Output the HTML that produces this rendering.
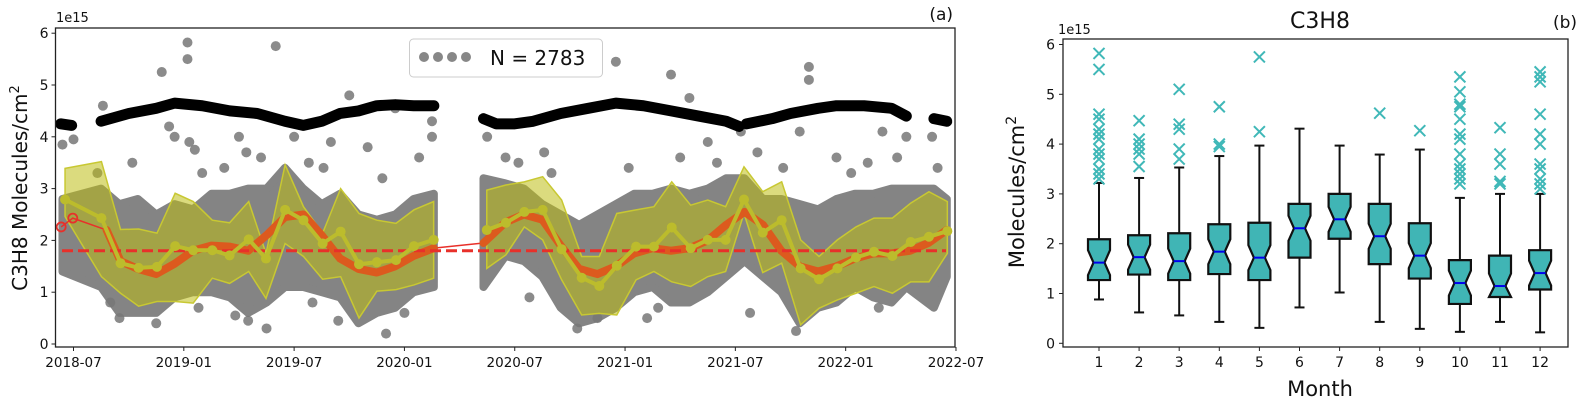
<!DOCTYPE html>
<html><head><meta charset="utf-8"><style>
body{margin:0;background:#fff;font-family:"Liberation Sans","DejaVu Sans",sans-serif}
svg text{font-family:"DejaVu Sans","Liberation Sans",sans-serif;fill:#111}
</style></head><body>
<svg id="s" width="1578" height="402" xmlns="http://www.w3.org/2000/svg">
<g id="A"></g>
<g id="B"></g>
</svg>
<script>
// ---------- Panel (a) data (x = months since 2018-07) ----------
const yellowM=[-0.46,1.52,2.56,3.54,4.54,5.53,6.51,7.55,8.49,9.53,10.47,11.51,12.51,13.55,14.53,15.53,16.5,17.54,18.52,19.59,22.48,23.52,24.52,25.52,26.55,27.64,28.6,29.55,30.6,31.57,32.54,33.57,34.5,35.47,36.47,37.49,38.52,39.55,40.55,41.55,42.56,43.54,44.54,45.54,46.53,47.53];
const yellowV=[2.79,2.43,1.56,1.47,1.49,1.89,1.81,1.81,1.71,2.02,1.65,2.59,2.39,1.94,2.17,1.54,1.58,1.62,1.89,2.01,2.2,2.34,2.55,2.59,1.83,1.28,1.12,1.51,1.88,1.88,2.25,1.85,2.01,2.01,2.79,2.15,2.39,1.46,1.25,1.46,1.67,1.78,1.70,1.97,2.07,2.18];
const bandUpper=[3.39,3.52,2.21,2.22,2.14,2.91,2.75,2.39,2.34,2.75,1.75,3.46,2.65,2.14,3.0,2.52,2.39,2.33,2.59,2.75,2.97,3.07,3.13,3.23,2.78,1.69,1.69,2.52,2.59,2.65,3.13,2.68,2.78,2.65,3.42,2.94,3.13,2.01,1.69,2.01,2.26,2.43,2.43,2.72,2.94,2.75];
const bandLower=[2.46,1.30,0.98,0.73,0.82,0.82,0.79,1.27,1.17,1.40,0.88,1.94,1.69,1.25,1.3,0.5,1.02,1.05,1.14,1.27,1.46,1.72,2.26,2.01,1.24,0.56,0.59,0.56,1.24,1.40,1.20,1.11,1.30,1.40,2.52,1.38,1.56,0.37,0.69,0.85,0.98,1.11,0.98,1.20,1.20,1.75];
const orangeM1=[1.8,2.56,3.5,4.5,5.5,6.5,7.5,8.5,9.5,10.5,11.5,12.5,13.5,14.5,15.5,16.5,17.5,18.5,19.6];
const orangeV1=[2.2,1.6,1.45,1.35,1.55,1.8,1.9,1.88,1.8,2.1,2.45,2.5,2.1,1.65,1.45,1.38,1.5,1.7,1.85];
const orangeM2=[22.3,23.5,24.5,25.5,26.5,27.5,28.5,29.5,30.5,31.5,32.5,33.5,34.5,35.5,36.5,37.5,38.5,39.5,40.5,41.5,42.5,43.5,44.5,45.5,46.5,47.5];
const orangeV2=[1.95,2.35,2.5,2.4,1.9,1.45,1.35,1.5,1.75,1.85,1.8,1.85,2.0,2.3,2.55,2.3,1.8,1.5,1.4,1.5,1.65,1.75,1.75,1.8,1.95,2.2];
const blackSegs=[
 [[-0.7,4.25],[-0.1,4.22]],
 [[1.5,4.3],[3,4.45],[4.5,4.55],[5.5,4.65],[7,4.6],[8.5,4.5],[10,4.45],[11.5,4.3],[12.5,4.22],[13.5,4.3],[14.5,4.45],[15.5,4.5],[16.5,4.6],[17.5,4.62],[18.5,4.6],[19.6,4.6]],
 [[22.3,4.35],[23,4.25],[24,4.25],[25,4.3],[26.5,4.45],[28,4.55],[29.5,4.65],[31,4.6],[32.5,4.5],[34,4.4],[35.5,4.3],[36.2,4.2]],
 [[36.6,4.25],[38,4.35],[39,4.45],[40.5,4.55],[41.5,4.6],[43,4.6],[44.5,4.55],[45.3,4.4]],
 [[46.8,4.35],[47.5,4.3]]];
const cloudM1=[-0.6,1.5,2.5,3.5,4.5,5.5,6.5,7.5,8.5,9.5,10.5,11.5,12.5,13.5,14.5,15.5,16.5,17.5,18.5,19.6];
const cloudLo1=[1.4,1.1,0.6,0.6,0.6,0.9,1.0,1.0,0.9,0.6,0.8,1.1,1.1,1.0,0.9,0.4,0.6,0.7,1.0,1.1];
const cloudHi1=[2.8,3.0,2.7,2.8,2.5,2.7,2.6,2.9,2.9,3.0,3.0,3.4,3.0,2.7,2.9,2.5,2.4,2.5,2.8,2.9];
const cloudM2=[22.3,23.5,24.5,25.5,26.5,27.5,28.5,29.5,30.5,31.5,32.5,33.5,34.5,35.5,36.5,37.5,38.5,39.5,40.5,41.5,42.5,43.5,44.5,45.3,46.8,47.5];
const cloudLo2=[1.1,1.7,1.6,1.3,0.7,0.4,0.5,0.7,1.0,1.1,0.8,0.8,1.0,1.3,1.6,1.3,1.0,0.4,0.7,0.8,1.1,0.9,0.8,1.1,0.7,1.3];
const cloudHi2=[3.2,3.1,3.0,2.7,2.5,2.3,2.5,2.7,2.9,2.9,3.0,2.9,3.0,3.2,3.2,2.8,2.8,2.7,2.6,2.8,2.9,2.9,3.0,3.0,3.0,2.8];
const grayM=[-0.6,0,1.6,4.8,5.2,5.5,6.2,6.2,6.3,6.6,11.0,9.0,9.4,12.0,14.0,15.0,16.0,17.5,19.5,19.5,2.5,4.5,8.8,9.5,10.5,14.4,17.0,22.5,23.5,25.6,29.5,32.5,33.5,34.5,36.3,40.0,40.0,39.5,41.5,44.0,45.3,46.7,27.4,28.5,31.2,39.3,
 1.3,3.2,7.0,8.2,10.2,12.8,13.6,16.8,18.8,24.2,26.0,30.2,33.0,35.0,37.2,38.6,42.3,43.2,44.8,47.0,2.0,6.8,13.0,18.0,24.8,31.8,36.8,43.8];
const grayV=[3.85,3.95,4.6,5.25,4.2,4.0,5.82,5.5,3.9,3.75,5.75,4.0,3.7,4.0,3.9,4.8,3.8,4.55,4.0,4.3,0.5,0.4,0.55,0.45,0.3,0.45,0.2,4.0,3.6,3.7,5.45,5.2,4.75,3.9,4.1,5.35,5.1,4.1,3.6,4.1,4.0,4.0,0.3,0.5,0.5,0.25,
 3.3,3.5,3.3,3.4,3.6,3.5,3.4,3.2,3.6,3.5,3.3,3.4,3.6,3.5,3.7,3.4,3.3,3.5,3.6,3.4,0.8,0.7,0.8,0.6,0.9,0.7,0.6,0.7];
const meanLine=1.8;
const redCircM=[-0.67,-0.04], redCircV=[2.26,2.43];
const xTickLabels=["2018-07","2019-01","2019-07","2020-01","2020-07","2021-01","2021-07","2022-01","2022-07"];
const xTickMonths=[0,6,12,18,24,30,36,42,48];
const yTicks=[0,1,2,3,4,5,6];

// ---------- Panel (b) data ----------
const months=[1,2,3,4,5,6,7,8,9,10,11,12];
const whiskLo=[0.88,0.62,0.56,0.43,0.31,0.72,1.02,0.43,0.29,0.23,0.43,0.22];
const q1=[1.27,1.38,1.27,1.39,1.27,1.72,2.10,1.59,1.30,0.79,0.93,1.08];
const med=[1.62,1.73,1.65,1.84,1.72,2.31,2.49,2.15,1.76,1.21,1.15,1.41];
const q3=[2.09,2.17,2.21,2.39,2.42,2.80,3.0,2.80,2.41,1.67,1.76,1.87];
const whiskHi=[3.22,3.32,3.53,3.76,3.97,4.31,3.97,3.79,3.89,2.92,3.0,3.0];
const outliers=[[5.82,5.5,4.6,4.5,4.3,4.2,4.1,3.9,3.8,3.7,3.5,3.4,3.3],[4.47,4.1,4.0,3.9,3.8,3.55],[5.1,4.4,4.3,3.9,3.7],[4.75,4.0,3.95],[5.75,4.25],[],[],[4.62],[4.27],[5.35,5.05,4.8,4.75,4.5,4.2,4.1,3.8,3.6,3.5,3.4,3.3,3.2],[4.33,3.8,3.6,3.25,3.2],[5.45,5.35,5.25,4.6,4.2,4.0,3.6,3.5,3.3,3.2,3.1]];

const NS="http://www.w3.org/2000/svg";
function mk(p,t,a,txt){const e=document.createElementNS(NS,t);for(const k in a)e.setAttribute(k,a[k]);if(txt!==undefined)e.textContent=txt;p.appendChild(e);return e;}
const A=document.getElementById('A'),B=document.getElementById('B');
const ax=m=>73.5+m*18.385, ay=v=>344-v*51.8;
const L=55.5,R=955,T=28,Bt=347;
let e;
function cloud(M,lo,hi,name){let d='M'+M.map((m,i)=>ax(m)+','+ay(hi[i])).join('L');for(let i=M.length-1;i>=0;i--)d+='L'+ax(M[i])+','+ay(lo[i]);
 e=mk(A,'path',{d:d+'Z',fill:'#747474',stroke:'#747474','stroke-width':8,'stroke-linejoin':'round','opacity':0.88});
 }
cloud(cloudM1,cloudLo1,cloudHi1,'gray-cloud-1');cloud(cloudM2,cloudLo2,cloudHi2,'gray-cloud-2');
grayM.forEach((m,i)=>{e=mk(A,'circle',{cx:ax(m),cy:ay(grayV[i]),r:5,fill:'#777','opacity':0.85});
 });
blackSegs.forEach(s=>{e=mk(A,'polyline',{points:s.map(p=>ax(p[0])+','+ay(p[1])).join(' '),fill:'none',stroke:'#000','stroke-width':11,'stroke-linecap':'round','stroke-linejoin':'round'});
 });
function band(i0,i1,name){let d='M';for(let i=i0;i<=i1;i++)d+=(i>i0?'L':'')+ax(yellowM[i])+','+ay(bandUpper[i]);for(let i=i1;i>=i0;i--)d+='L'+ax(yellowM[i])+','+ay(bandLower[i]);
 e=mk(A,'path',{d:d+'Z',fill:'rgba(190,190,20,0.55)',stroke:'#c8c832','stroke-width':1.5});
 }
band(0,19,'yellow-band-1');band(20,45,'yellow-band-2');
e=mk(A,'polyline',{points:redCircM.map((m,i)=>ax(m)+','+ay(redCircV[i])).join(' ')+' '+ax(orangeM1[0])+','+ay(orangeV1[0]),fill:'none',stroke:'#e8302a','stroke-width':1.5});

e=mk(A,'line',{x1:ax(orangeM1[orangeM1.length-1]),y1:ay(orangeV1[orangeV1.length-1]),x2:ax(orangeM2[0]),y2:ay(orangeV2[0]),stroke:'#e8302a','stroke-width':1.5});

redCircM.forEach((m,i)=>{e=mk(A,'circle',{cx:ax(m),cy:ay(redCircV[i]),r:4.5,fill:'none',stroke:'#e8302a','stroke-width':1.8});
 });
[[orangeM1,orangeV1],[orangeM2,orangeV2]].forEach(o=>{e=mk(A,'polyline',{points:o[0].map((m,i)=>ax(m)+','+ay(o[1][i])).join(' '),fill:'none',stroke:'#dc5a1e','stroke-width':8,'stroke-linecap':'round','stroke-linejoin':'round'});
 });
e=mk(A,'line',{x1:62,x2:946,y1:ay(meanLine),y2:ay(meanLine),stroke:'#e8302a','stroke-width':3,'stroke-dasharray':'11,5'});

[[0,19],[20,45]].forEach(r=>{const pts=[];for(let i=r[0];i<=r[1];i++)pts.push(ax(yellowM[i])+','+ay(yellowV[i]));
 e=mk(A,'polyline',{points:pts.join(' '),fill:'none',stroke:'#bcbc2c','stroke-width':4});
 });
yellowM.forEach((m,i)=>{e=mk(A,'circle',{cx:ax(m),cy:ay(yellowV[i]),r:5,fill:'#bcbc2c'});
 });
e=mk(A,'rect',{x:L,y:T,width:R-L,height:Bt-T,fill:'none',stroke:'#222','stroke-width':1.3});

yTicks.forEach(v=>{mk(A,'line',{x1:L-4,x2:L,y1:ay(v),y2:ay(v),stroke:'#222'});
 e=mk(A,'text',{x:L-7,y:ay(v)+5,'text-anchor':'end','font-size':14},v);
 });
xTickMonths.forEach((m,i)=>{mk(A,'line',{x1:ax(m),x2:ax(m),y1:Bt,y2:Bt+4,stroke:'#222'});
 e=mk(A,'text',{x:ax(m),y:367,'text-anchor':'middle','font-size':13.5},xTickLabels[i]);
 });
e=mk(A,'text',{x:56,y:22,'font-size':13},'1e15');
e=mk(A,'text',{x:953,y:20,'font-size':17,'text-anchor':'end'},'(a)');
e=mk(A,'text',{x:0,y:0,'font-size':20,'text-anchor':'middle',transform:'translate(27,188) rotate(-90)'},'C3H8 Molecules/cm');

mk(e,'tspan',{'font-size':13,dy:-8},'2');
e=mk(A,'rect',{x:409.5,y:39,width:193,height:38,rx:4,fill:'#fff','fill-opacity':0.85,stroke:'#ccc'});

[424,438,452,466].forEach(x=>{e=mk(A,'circle',{cx:x,cy:57,r:5,fill:'#7a7a7a',opacity:0.9});});
e=mk(A,'text',{x:490,y:65,'font-size':20},'N = 2783');

// ---------- panel (b) ----------
const bx=m=>1099+(m-1)*40.1, by=v=>343.3-v*49.8;
const L2=1063,R2=1568,T2=39,B2=347,hw=11;
months.forEach((m,i)=>{const c=bx(m);
 e=mk(B,'line',{x1:c,x2:c,y1:by(whiskLo[i]),y2:by(q1[i]),stroke:'#111','stroke-width':2});
 e=mk(B,'line',{x1:c,x2:c,y1:by(q3[i]),y2:by(whiskHi[i]),stroke:'#111','stroke-width':2});
 [whiskLo[i],whiskHi[i]].forEach(v=>{e=mk(B,'line',{x1:c-5,x2:c+5,y1:by(v),y2:by(v),stroke:'#111','stroke-width':2});});
 const nl=Math.max(q1[i],med[i]-0.25),nh=Math.min(q3[i],med[i]+0.25),w2=hw/2;
 const p=[[c-hw,q1[i]],[c+hw,q1[i]],[c+hw,nl],[c+w2,med[i]],[c+hw,nh],[c+hw,q3[i]],[c-hw,q3[i]],[c-hw,nh],[c-w2,med[i]],[c-hw,nl]];
 e=mk(B,'polygon',{points:p.map(q=>q[0]+','+by(q[1])).join(' '),fill:'#40b5b5',stroke:'#111','stroke-width':2.2});
 
 e=mk(B,'line',{x1:c-w2,x2:c+w2,y1:by(med[i]),y2:by(med[i]),stroke:'#0000ee','stroke-width':2});
 outliers[i].forEach(v=>{const y=by(v);e=mk(B,'path',{d:`M${c-5.5},${y-5.5}L${c+5.5},${y+5.5}M${c-5.5},${y+5.5}L${c+5.5},${y-5.5}`,stroke:'#40b8b8','stroke-width':2});
  });
 mk(B,'line',{x1:c,x2:c,y1:B2,y2:B2+4,stroke:'#222'});
 e=mk(B,'text',{x:c,y:367,'text-anchor':'middle','font-size':14},m);
});
e=mk(B,'rect',{x:L2,y:T2,width:R2-L2,height:B2-T2,fill:'none',stroke:'#222','stroke-width':1.3});

yTicks.forEach(v=>{mk(B,'line',{x1:L2-4,x2:L2,y1:by(v),y2:by(v),stroke:'#222'});
 e=mk(B,'text',{x:L2-8,y:by(v)+5,'text-anchor':'end','font-size':14},v);});
e=mk(B,'text',{x:1058,y:34,'font-size':13},'1e15');
e=mk(B,'text',{x:1320,y:28,'font-size':22,'text-anchor':'middle'},'C3H8');
e=mk(B,'text',{x:1577,y:28,'font-size':17,'text-anchor':'end'},'(b)');
e=mk(B,'text',{x:1320,y:396,'font-size':21,'text-anchor':'middle'},'Month');
e=mk(B,'text',{x:0,y:0,'font-size':21,'text-anchor':'middle',transform:'translate(1024,192) rotate(-90)'},'Molecules/cm');

mk(e,'tspan',{'font-size':14,dy:-8},'2');
</script>
</body></html>
